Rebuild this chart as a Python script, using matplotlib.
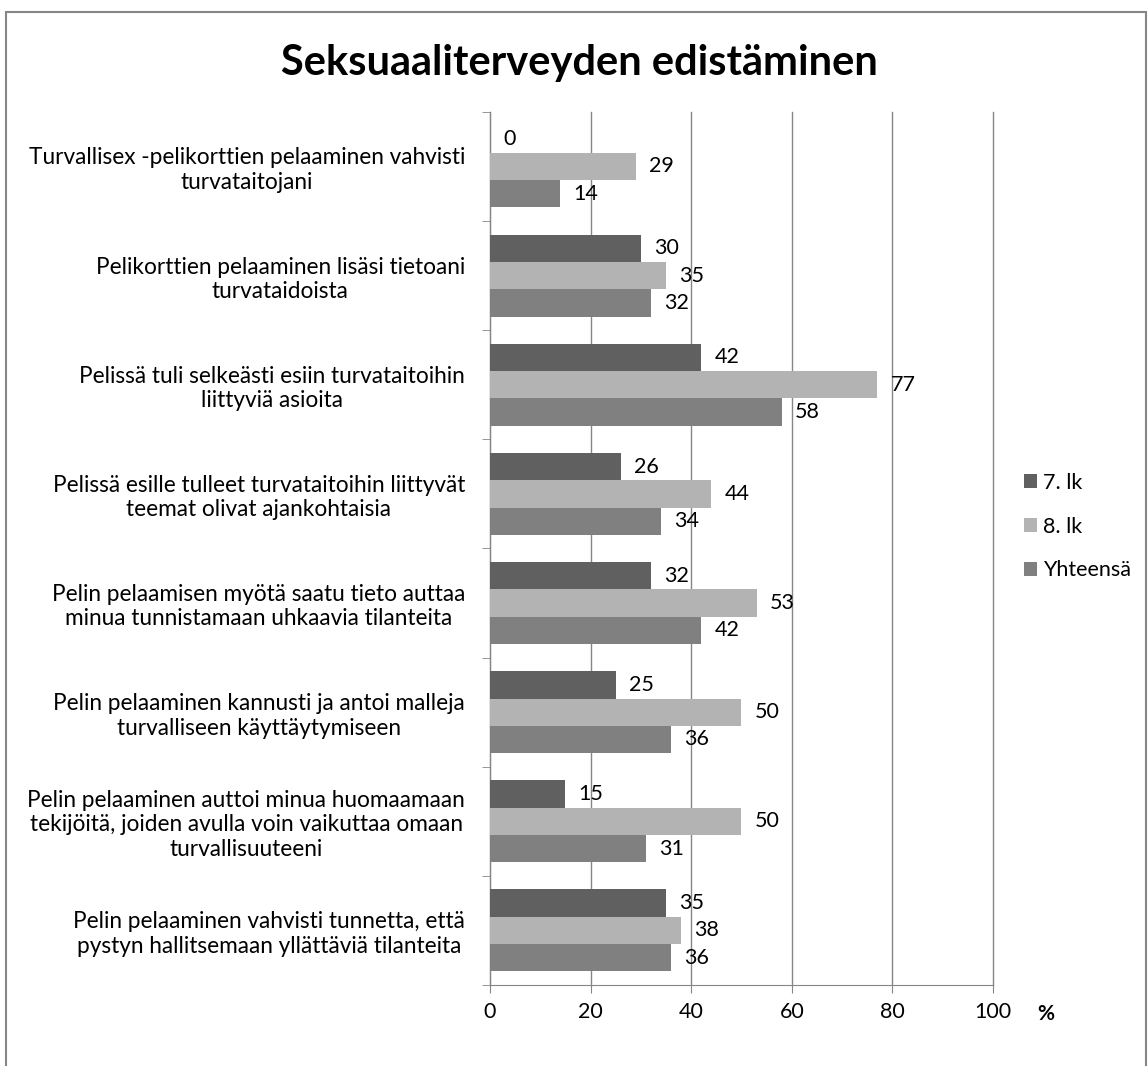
import matplotlib.pyplot as plt
import numpy as np
from matplotlib.patches import Rectangle

plt.rcParams['font.family'] = ['Lato', 'DejaVu Sans']

categories = [
    'Turvallisex -pelikorttien pelaaminen vahvisti\nturvataitojani',
    'Pelikorttien pelaaminen lisäsi tietoani\nturvataidoista',
    'Pelissä tuli selkeästi esiin turvataitoihin\nliittyviä asioita',
    'Pelissä esille tulleet turvataitoihin liittyvät\nteemat olivat ajankohtaisia',
    'Pelin pelaamisen myötä saatu tieto auttaa\nminua tunnistamaan uhkaavia tilanteita',
    'Pelin pelaaminen kannusti ja antoi malleja\nturvalliseen käyttäytymiseen',
    'Pelin pelaaminen auttoi minua huomaamaan\ntekijöitä, joiden avulla voin vaikuttaa omaan\nturvallisuuteeni',
    'Pelin pelaaminen vahvisti tunnetta, että\npystyn hallitsemaan yllättäviä tilanteita',
]
lk7 = [0, 30, 42, 26, 32, 25, 15, 35]
lk8 = [29, 35, 77, 44, 53, 50, 50, 38]
total = [14, 32, 58, 34, 42, 36, 31, 36]
series_names = ['7. lk', '8. lk', 'Yhteensä']
colors = ['#606060', '#b3b3b3', '#808080']

fig = plt.figure(figsize=(11.48, 10.66), dpi=100)
fig.patches.append(Rectangle((0.005, -0.1), 0.993, 1.089, transform=fig.transFigure,
                             fill=False, edgecolor='#868686', linewidth=1.5))
ax = fig.add_axes([0.4268, 0.076, 0.4382, 0.819])

y = np.arange(len(categories))
h = 0.25
for i, (vals, name, c) in enumerate(zip([lk7, lk8, total], series_names, colors)):
    pos = y + (i - 1) * h
    ax.barh(pos, vals, height=h, color=c, label=name, zorder=3)
    for p, v in zip(pos, vals):
        ax.text(v + 2.6, p, str(v), va='center', ha='left', fontsize=15.5, zorder=4)

ax.set_ylim(len(categories) - 0.5, -0.5)
ax.set_xlim(0, 100)
ax.set_xticks(range(0, 101, 20))
ax.set_yticks(np.arange(len(categories) + 1) - 0.5, minor=True)
ax.set_yticks(y)
ax.set_yticklabels(categories, fontsize=16.3, multialignment='center')
ax.tick_params(axis='y', which='major', length=0, pad=18)
ax.tick_params(axis='y', which='minor', length=6, color='#868686', direction='out')
ax.tick_params(axis='x', length=6, color='#868686', labelsize=15.5, pad=6)
ax.grid(axis='x', color='#868686', linewidth=1, zorder=0)
for gl in ax.get_xgridlines():
    gl.set_clip_on(False)
for s in ['top', 'right']:
    ax.spines[s].set_visible(False)
for s in ['left', 'bottom']:
    ax.spines[s].set_color('#868686')
ax.annotate('%', xy=(1.0, 0), xycoords='axes fraction', xytext=(32, -21),
            textcoords='offset points', ha='left', va='center',
            fontsize=15, fontweight='bold')

fig.suptitle('Seksuaaliterveyden edistäminen', x=0.505, y=0.959, fontsize=30, fontweight='bold')
fig.legend(loc='center left', bbox_to_anchor=(0.875, 0.506), frameon=False, fontsize=15.5,
           handlelength=0.6, handleheight=0.6, handletextpad=0.3, labelspacing=1.1)

fig.savefig('out.png', dpi=100)
